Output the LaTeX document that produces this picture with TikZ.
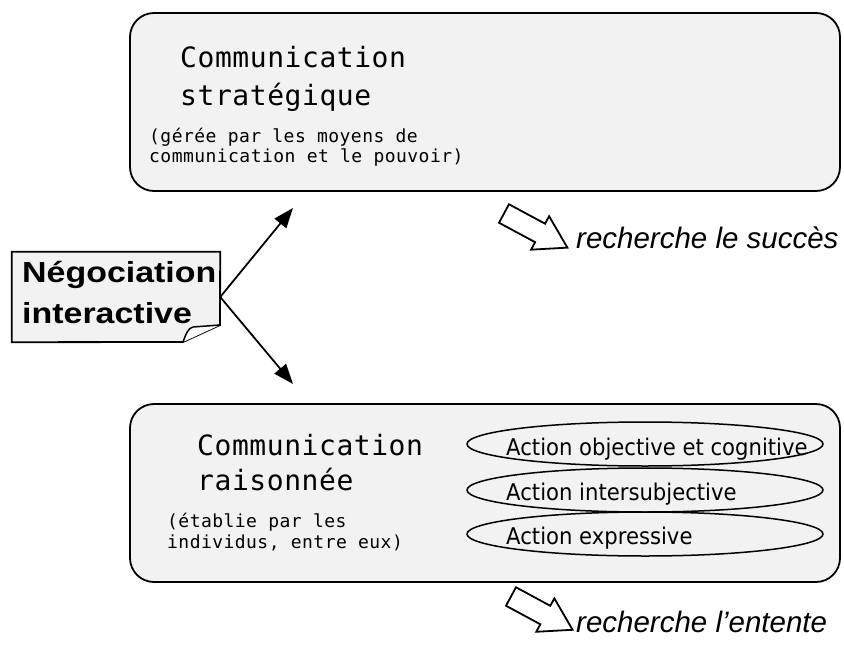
\documentclass[tikz,border=0pt]{standalone}
\usepackage{fontspec}
\setmainfont{Liberation Sans}
\newfontfamily\monofont[LetterSpace=2]{DejaVu Sans Mono}
\newfontfamily\smallmonofont[LetterSpace=2.5]{DejaVu Sans Mono}
\newfontfamily\actfont[FakeStretch=0.92]{DejaVu Sans}
\newfontfamily\negfont[FakeStretch=1.17]{Liberation Sans Bold}
\usetikzlibrary{arrows.meta,shapes.geometric}
\definecolor{stipple}{gray}{0.95}
\tikzset{
  roundbox/.style={draw, line width=1.8pt, fill=stipple, rounded corners=24pt, minimum width=710pt, minimum height=178pt},
  bigmono/.style={anchor=base west, inner sep=0pt, font=\monofont\fontsize{28}{32}\selectfont},
  smallmono/.style={anchor=base west, inner sep=0pt, font=\smallmonofont\fontsize{18}{21}\selectfont},
  act/.style={draw, ellipse, line width=1.5pt, fill=stipple, minimum width=356pt, minimum height=44pt},
  acttext/.style={anchor=base west, inner sep=0pt, font=\actfont\fontsize{23}{26}\selectfont},
  negtext/.style={anchor=base west, inner sep=0pt, font=\negfont\fontsize{29}{34}\selectfont},
  result/.style={anchor=base west, inner sep=0pt, font=\itshape\fontsize{29.5}{34}\selectfont},
  thinarrow/.style={line width=1.8pt, -{Triangle[length=20pt,width=15pt]}},
  hollow/.style={draw, line width=1.8pt, fill=white, line join=miter},
}
\begin{document}
\begin{tikzpicture}[x=1pt,y=-1pt]
\useasboundingbox (0,0) rectangle (844,648);

% top box
\node[roundbox] (top) at (485,102) {};
\node[bigmono] (t1) at (180,67) {Communication};
\node[bigmono] (t2) at (180,105) {stratégique};
\node[smallmono] (t3) at (149,142) {(gérée par les moyens de};
\node[smallmono] (t4) at (149,162) {communication et le pouvoir)};

% bottom box
\node[roundbox] (bot) at (485,493) {};
\node[bigmono] (b1) at (197,455) {Communication};
\node[bigmono] (b2) at (197,490) {raisonnée};
\node[smallmono] (b3) at (167,527) {(établie par les};
\node[smallmono] (b4) at (167,548) {individus, entre eux)};

% ellipses
\node[act] (e1) at (645,444) {};
\node[act] (e2) at (645,490) {};
\node[act] (e3) at (645,534) {};
\node[acttext] (e1t) at (506,455) {Action objective et cognitive};
\node[acttext] (e2t) at (506,500) {Action intersubjective};
\node[acttext] (e3t) at (506,544) {Action expressive};

% negotiation note
\node[minimum width=208pt, minimum height=90pt, inner sep=0pt] (neg) at (116,297) {};
\draw[line width=1.8pt, fill=stipple, line join=miter]
  (neg.north west) -- (neg.north east) -- (220,325) -- (183,342) -- (neg.south west) -- cycle;
\draw[line width=1.5pt, fill=white, line join=round]
  (183,342) .. controls (186,334) and (188,328) .. (193,327) -- (220,325);
\node[negtext] (n1) at (22,282) {Négociation};
\node[negtext] (n2) at (22,323) {interactive};

\coordinate (upend) at (293,208);
\coordinate (downend) at (293,384);
\draw[thinarrow] (neg.east) -- (upend);
\draw[thinarrow] (neg.east) -- (downend);

% block arrows
\begin{scope}[shift={(504,213.5)}, rotate=-28.3]
  \draw[hollow] (0,-10.5) -- (41,-10.5) -- (41,-19) -- (72,0) -- (41,19) -- (41,10.5) -- (0,10.5) -- cycle;
\end{scope}
\begin{scope}[shift={(511,596.5)}, rotate=-28.4]
  \draw[hollow] (0,-10.5) -- (39,-10.5) -- (39,-19) -- (70,0) -- (39,19) -- (39,10.5) -- (0,10.5) -- cycle;
\end{scope}

\node[result] (r1) at (576,248) {recherche le succès};
\node[result] (r2) at (576,632) {recherche l'entente};
\end{tikzpicture}
\end{document}
